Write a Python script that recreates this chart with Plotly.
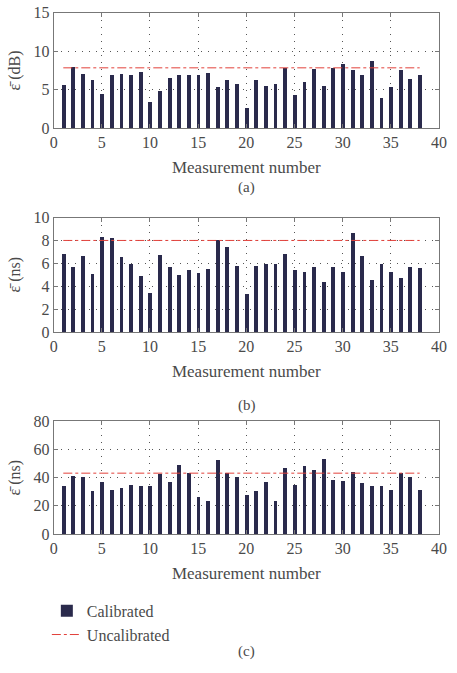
import plotly.graph_objects as go

measurements = list(range(1, 39))

cal_a_db = [5.6, 8.0, 7.05, 6.3, 4.4, 6.9, 7.05, 7.0, 7.35, 3.4,
            4.85, 6.5, 6.9, 6.9, 6.9, 7.2, 5.4, 6.35, 5.75, 2.65,
            6.25, 5.45, 5.8, 7.9, 4.3, 6.0, 7.7, 5.45, 7.85, 8.4,
            7.6, 7.0, 8.75, 4.0, 5.35, 7.55, 6.4, 6.9]
uncal_a_db = 7.85

cal_b_ns = [6.85, 5.7, 6.68, 5.1, 8.3, 8.24, 6.56, 6.0, 4.97, 3.4,
            6.76, 5.7, 5.03, 5.48, 5.17, 5.5, 8.12, 7.5, 5.8, 3.38,
            5.82, 6.02, 6.02, 6.82, 5.48, 5.26, 5.74, 4.4, 5.7, 5.26,
            8.66, 6.7, 4.6, 6.02, 5.3, 4.74, 5.74, 5.63]
uncal_b_ns = 8.0

cal_c_ns = [33.9, 41.0, 40.5, 30.0, 36.4, 30.9, 32.3, 34.6, 33.6, 33.9,
            42.1, 36.6, 48.7, 43.2, 25.9, 23.1, 52.2, 42.8, 40.5, 27.5,
            30.0, 36.6, 23.3, 46.9, 34.8, 47.8, 45.5, 52.9, 38.2, 37.3,
            43.5, 35.9, 33.9, 34.1, 30.9, 42.8, 40.5, 31.1]
uncal_c_ns = 43.2

y_titles = ["ε̄ (dB)", "ε̄ (ns)", "ε̄ (ns)"]
y_ranges = [[0, 15], [0, 10], [0, 80]]
y_dticks = [5, 2, 20]
panel_labels = ["(a)", "(b)", "(c)"]

W, H = 457, 673
FONT = "Liberation Serif"
TXT = "#4a4a4a"
BAR = "#2a2a4c"
RED = "#e2403a"

# pixel layout of the three panels (top, bottom)
panels_px = [(5, 123.3), (215, 332.3), (424, 539.7)]
x_dom = [51 / W, 446.7 / W]

fig = go.Figure()
series = [(cal_a_db, uncal_a_db), (cal_b_ns, uncal_b_ns), (cal_c_ns, uncal_c_ns)]
for i, (cal, unc) in enumerate(series):
    xa = "x" if i == 0 else f"x{i+1}"
    ya = "y" if i == 0 else f"y{i+1}"
    show = (i == 2)
    fig.add_trace(go.Bar(x=measurements, y=cal, width=0.4, marker_color=BAR,
                         marker_line_width=0, name="Calibrated",
                         showlegend=show, legendgroup="cal",
                         xaxis=xa, yaxis=ya))
    fig.add_trace(go.Scatter(x=[measurements[0], measurements[-1]], y=[unc, unc],
                             mode="lines", line=dict(color=RED, width=1, dash="dashdot"),
                             name="Uncalibrated", showlegend=show, legendgroup="unc",
                             xaxis=xa, yaxis=ya))

layout = dict(
    width=W, height=H,
    margin=dict(l=0, r=0, t=0, b=0),
    paper_bgcolor="white", plot_bgcolor="white",
    font=dict(family=FONT, color=TXT, size=16),
    bargap=0,
    legend=dict(x=44 / W, y=1 - 601 / H, xanchor="left", yanchor="top",
                font=dict(family=FONT, size=16, color=TXT), bgcolor="rgba(0,0,0,0)",
                tracegroupgap=0, itemwidth=30),
    showlegend=True,
)

annotations = []
for i, (top, bot) in enumerate(panels_px):
    sfx = "" if i == 0 else str(i + 1)
    ydom = [1 - bot / H, 1 - top / H]
    axis_common = dict(
        showline=True, linecolor="#777", linewidth=1, mirror="ticks",
        ticks="inside", ticklen=4, tickcolor="#777",
        showgrid=True, gridcolor="#555", griddash="1px,6px", gridwidth=1,
        zeroline=False, tickfont=dict(family=FONT, size=16, color=TXT),
    )
    layout["xaxis" + sfx] = dict(
        axis_common, domain=x_dom, range=[0, 40], dtick=5, tick0=0,
        anchor="y" + sfx,
        title=dict(text="Measurement number",
                   font=dict(family=FONT, size=17, color=TXT), standoff=10),
    )
    layout["yaxis" + sfx] = dict(
        axis_common, domain=ydom, range=y_ranges[i], dtick=y_dticks[i], tick0=0,
        anchor="x" + sfx,
        title=dict(text=y_titles[i], font=dict(family=FONT, size=16, color=TXT), standoff=8),
    )
    label_y = [184, 408, 660][i]
    annotations.append(dict(text=panel_labels[i], x=0.545, y=1 - label_y / H,
                            xref="paper", yref="paper", showarrow=False,
                            font=dict(family=FONT, size=15, color=TXT),
                            xanchor="center", yanchor="middle"))

layout["annotations"] = annotations
fig.update_layout(**layout)
fig.write_html("out.html")
